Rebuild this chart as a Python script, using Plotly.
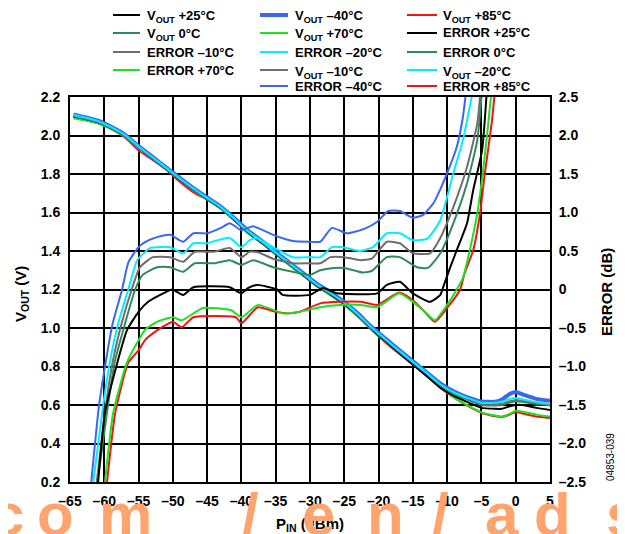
import plotly.graph_objects as go

# ---------------- data ----------------
x_ticks = [-65, -60, -55, -50, -45, -40, -35, -30, -25, -20, -15, -10, -5, 0, 5]
x_ticktext = ["–65", "–60", "–55", "–50", "–45", "–40", "–35", "–30", "–25", "–20", "–15", "–10", "–5", "0", "5"]
y_ticks = [0.2, 0.4, 0.6, 0.8, 1.0, 1.2, 1.4, 1.6, 1.8, 2.0, 2.2]
y_ticktext = ["0.2", "0.4", "0.6", "0.8", "1.0", "1.2", "1.4", "1.6", "1.8", "2.0", "2.2"]
y2_ticks = [-2.5, -2.0, -1.5, -1.0, -0.5, 0, 0.5, 1.0, 1.5, 2.0, 2.5]
y2_ticktext = ["–2.5", "–2.0", "–1.5", "–1.0", "–0.5", "0", "0.5", "1.0", "1.5", "2.0", "2.5"]

# VOUT curves (V) vs PIN (dBm)
pin_vout = [-64.5, -63, -61, -59, -57, -55, -53, -51, -49, -47, -45, -43, -41, -39, -37, -35, -33, -31, -29, -27,
            -25, -23, -21, -19, -17, -15, -13, -11, -9, -7, -5, -3, -2, -1, 0, 1, 3, 5]
vout_m40 = [2.11, 2.097, 2.078, 2.045, 2.005, 1.945, 1.89, 1.835, 1.78, 1.727, 1.678, 1.63, 1.57, 1.505, 1.452, 1.395,
            1.34, 1.285, 1.23, 1.185, 1.135, 1.075, 1.005, 0.945, 0.885, 0.828, 0.77, 0.712, 0.67, 0.64, 0.618, 0.617,
            0.628, 0.655, 0.668, 0.655, 0.632, 0.622]
vout_m20 = [2.108, 2.095, 2.076, 2.043, 2.003, 1.943, 1.888, 1.833, 1.778, 1.725, 1.676, 1.628, 1.567, 1.502, 1.45,
            1.392, 1.337, 1.282, 1.227, 1.182, 1.132, 1.072, 1.002, 0.942, 0.882, 0.825, 0.767, 0.708, 0.665, 0.636,
            0.612, 0.612, 0.618, 0.63, 0.636, 0.63, 0.615, 0.605]
vout_m10 = [2.102, 2.09, 2.072, 2.04, 2.0, 1.94, 1.885, 1.83, 1.775, 1.722, 1.673, 1.625, 1.564, 1.5, 1.447, 1.39,
            1.334, 1.28, 1.225, 1.18, 1.13, 1.07, 1.0, 0.94, 0.88, 0.822, 0.764, 0.705, 0.66, 0.632, 0.605, 0.603,
            0.606, 0.618, 0.626, 0.622, 0.61, 0.605]
vout_0 = [2.098, 2.087, 2.07, 2.038, 1.998, 1.938, 1.883, 1.828, 1.773, 1.72, 1.671, 1.623, 1.562, 1.498, 1.445, 1.388,
          1.332, 1.278, 1.223, 1.178, 1.128, 1.068, 0.998, 0.938, 0.878, 0.82, 0.762, 0.703, 0.657, 0.628, 0.6, 0.598,
          0.6, 0.612, 0.62, 0.616, 0.605, 0.598]
vout_25 = [2.1, 2.088, 2.07, 2.038, 1.998, 1.938, 1.882, 1.827, 1.772, 1.718, 1.67, 1.622, 1.56, 1.495, 1.442, 1.385,
           1.33, 1.275, 1.22, 1.175, 1.125, 1.065, 0.995, 0.932, 0.872, 0.81, 0.752, 0.69, 0.648, 0.615, 0.585, 0.58,
           0.58, 0.592, 0.6, 0.6, 0.585, 0.574]
vout_70 = [2.09, 2.08, 2.063, 2.033, 1.994, 1.935, 1.88, 1.825, 1.77, 1.716, 1.667, 1.62, 1.558, 1.492, 1.44, 1.383,
           1.327, 1.272, 1.217, 1.17, 1.12, 1.06, 0.99, 0.93, 0.87, 0.812, 0.752, 0.692, 0.64, 0.598, 0.562, 0.545,
           0.54, 0.552, 0.57, 0.565, 0.55, 0.54]
vout_85 = [2.095, 2.083, 2.065, 2.035, 1.99, 1.922, 1.875, 1.823, 1.76, 1.705, 1.667, 1.62, 1.558, 1.492, 1.44, 1.383,
           1.327, 1.272, 1.217, 1.17, 1.12, 1.06, 0.99, 0.925, 0.866, 0.81, 0.75, 0.69, 0.638, 0.596, 0.56, 0.542,
           0.538, 0.548, 0.564, 0.556, 0.54, 0.532]

# ERROR curves (dB) vs PIN (dBm)
pin_err_m40 = [-61.9, -60.8, -59.8, -58.8, -57.4, -56.5, -55, -53.5, -52.3, -50.4, -48.5, -47, -45, -43, -41.7, -40,
               -38.3, -35.4, -32.5, -30, -28.5, -26.8, -24.6, -22, -20.2, -18.6, -16.9, -15, -13.5, -12, -11, -10,
               -8.6, -7.7, -7.2]
err_m40 = [-2.5, -1.53, -0.95, -0.45, 0.0, 0.35, 0.55, 0.64, 0.68, 0.71, 0.62, 0.73, 0.73, 0.80, 0.86, 0.77,
           0.82, 0.71, 0.63, 0.62, 0.62, 0.80, 0.73, 0.79, 0.88, 1.02, 1.02, 0.93, 0.97, 1.12, 1.30, 1.51,
           1.85, 2.24, 2.6]
pin_err_m20 = [-61.6, -60.2, -59.2, -58.0, -56.5, -55.2, -53.3, -52.3, -50.4, -48.5, -47, -45, -43.5, -41.7, -40,
               -38.8, -37.8, -35.4, -32.5, -30, -28.5, -26.8, -25.2, -22.7, -20.8, -18.8, -16.9, -15, -12.9, -11,
               -9.1, -7.7, -6.2]
err_m20 = [-2.5, -1.53, -0.95, -0.45, 0.0, 0.38, 0.54, 0.55, 0.55, 0.47, 0.60, 0.60, 0.64, 0.67, 0.55,
           0.64, 0.67, 0.55, 0.42, 0.42, 0.42, 0.55, 0.55, 0.50, 0.55, 0.73, 0.73, 0.64, 0.66, 0.90,
           1.51, 1.94, 2.6]
pin_err_m10 = [-61.1, -59.8, -58.8, -57.5, -56, -54.8, -52.9, -50.4, -48.5, -46.8, -44, -41.7, -40, -38.8, -37.5,
               -35.4, -32.5, -30, -28.5, -27, -25, -22.6, -21, -18.8, -16.9, -15, -12.5, -11, -9.1, -7.1, -5.6, -5.1]
err_m10 = [-2.5, -1.53, -0.95, -0.45, 0.0, 0.29, 0.42, 0.42, 0.36, 0.49, 0.49, 0.54, 0.42, 0.49, 0.48,
           0.40, 0.34, 0.34, 0.34, 0.42, 0.42, 0.38, 0.40, 0.62, 0.60, 0.47, 0.47, 0.67, 1.07, 1.59, 2.16, 2.6]
pin_err_0 = [-61.0, -59.5, -58.5, -57, -55.5, -54.4, -52.3, -50.4, -48.5, -46.8, -44, -41.7, -40, -38.3, -35.4,
             -32.5, -30, -28.5, -26.5, -25, -22.3, -21, -18.8, -16.9, -14.4, -12.8, -11, -9.1, -7.1, -5.6, -4.9]
err_0 = [-2.5, -1.53, -0.95, -0.45, 0.0, 0.19, 0.29, 0.29, 0.23, 0.34, 0.34, 0.38, 0.32, 0.38, 0.29,
         0.23, 0.19, 0.25, 0.28, 0.28, 0.22, 0.24, 0.42, 0.42, 0.29, 0.28, 0.47, 0.86, 1.38, 1.94, 2.6]
pin_err_25 = [-60.9, -59.9, -58.1, -56.7, -55, -53.6, -51.4, -50.1, -48.5, -47, -41.7, -40, -39, -37.7, -34.8, -34,
              -30, -28.1, -26.1, -20.2, -18.8, -16.9, -15, -12.5, -11, -10.5, -9.5, -8.6, -7.1, -6.2, -4.9, -4.2]
err_25 = [-2.5, -1.6, -0.95, -0.53, -0.29, -0.16, -0.05, 0.0, -0.07, 0.03, 0.03, -0.05, 0.02, 0.06, 0.0, -0.07,
          -0.07, 0.02, -0.05, -0.05, 0.06, 0.10, -0.05, -0.16, -0.07, 0.05, 0.30, 0.51, 0.86, 1.29, 1.81, 2.6]
pin_err_70 = [-59.9, -58.7, -56.7, -55, -54, -52.3, -51, -50, -48.7, -45.6, -41.5, -40, -37.6, -34, -33, -31.5,
              -28.5, -25.6, -22.6, -20.2, -17, -15, -13.5, -11.8, -10, -8.6, -7.7, -6.7, -5.6, -4.8, -4.0, -3.5]
err_70 = [-2.5, -1.6, -0.95, -0.66, -0.52, -0.42, -0.38, -0.36, -0.40, -0.24, -0.27, -0.36, -0.20, -0.31, -0.31,
          -0.29, -0.23, -0.20, -0.20, -0.23, -0.05, -0.16, -0.27, -0.40, -0.20, 0.0, 0.15, 0.51, 0.99, 1.51, 2.16, 2.6]
pin_err_85 = [-59.6, -58.4, -56.5, -55, -54, -52.3, -51, -50, -48.7, -47, -40.8, -40, -37.6, -35, -33, -31.5,
              -28.5, -25.6, -22.6, -20.2, -17, -15, -13.5, -11.8, -10, -8.1, -7.5, -6.2, -5.2, -4.5, -3.5, -3.0]
err_85 = [-2.5, -1.6, -0.95, -0.79, -0.65, -0.53, -0.46, -0.42, -0.49, -0.36, -0.36, -0.44, -0.23, -0.29, -0.31,
          -0.29, -0.18, -0.16, -0.16, -0.20, -0.04, -0.14, -0.27, -0.42, -0.24, 0.0, 0.20, 0.51, 0.99, 1.51, 2.16, 2.6]

# ---------------- styles ----------------
C_BLACK = "#000000"
C_BLUE = "#3B66F2"
C_RED = "#F21414"
C_DKGREEN = "#2E8B57"
C_GREEN = "#1EE01E"
C_GRAY = "#6E6E6E"
C_CYAN = "#00EEFF"

FONT = "Arial, 'Liberation Sans', Helvetica, sans-serif"

fig = go.Figure()

def add_line(x, y, color, width, axis="y"):
    fig.add_trace(go.Scatter(x=x, y=y, mode="lines", yaxis=axis, showlegend=False,
                             hoverinfo="skip",
                             line=dict(color=color, width=width, shape="spline", smoothing=0.5)))

# ERROR curves (right axis)
add_line(pin_err_0, err_0, C_DKGREEN, 2, "y2")
add_line(pin_err_m10, err_m10, C_GRAY, 2, "y2")
add_line(pin_err_m20, err_m20, C_CYAN, 2, "y2")
add_line(pin_err_m40, err_m40, C_BLUE, 2, "y2")
add_line(pin_err_25, err_25, C_BLACK, 2, "y2")
add_line(pin_err_85, err_85, C_RED, 2, "y2")
add_line(pin_err_70, err_70, C_GREEN, 2, "y2")

# VOUT curves (left axis)
add_line(pin_vout, vout_85, C_RED, 2)
add_line(pin_vout, vout_70, C_GREEN, 2)
add_line(pin_vout, vout_25, C_BLACK, 2)
add_line(pin_vout, vout_0, C_DKGREEN, 2)
add_line(pin_vout, vout_m10, C_GRAY, 2)
add_line(pin_vout, vout_m40, C_BLUE, 4)
add_line(pin_vout, vout_m20, C_CYAN, 2)

# ---------------- layout ----------------
# the page body has an 8 px margin; the figure is sized so that it fills the window exactly
OFF = 8
W, H = 625 - OFF, 534 - OFF
L, R, T, B = 70, 550, 97, 482   # plot-area edges in window pixels

def px(xp):
    return (xp - L) / (R - L)

def py(yp):
    return (B - yp) / (B - T)

axis_common = dict(
    showline=True, linecolor="black", linewidth=2, mirror=True,
    showgrid=True, gridcolor="black", gridwidth=1.5, zeroline=False,
    ticks="outside", ticklen=5, tickcolor="rgba(0,0,0,0)",
    tickfont=dict(family=FONT, size=14, color="black", weight="bold"),
)

fig.update_layout(
    width=W, height=H,
    margin=dict(l=L - OFF, r=W - (R - OFF), t=T - OFF, b=H - (B - OFF)),
    paper_bgcolor="white", plot_bgcolor="white",
    showlegend=False,
    xaxis=dict(range=[-65, 5], tickvals=x_ticks, ticktext=x_ticktext, **axis_common),
    yaxis=dict(range=[0.2, 2.2], tickvals=y_ticks, ticktext=y_ticktext, **axis_common),
    yaxis2=dict(range=[-2.5, 2.5], tickvals=y2_ticks, ticktext=y2_ticktext, overlaying="y", side="right",
                showgrid=False, zeroline=False, showline=False,
                ticks="outside", ticklen=5, tickcolor="rgba(0,0,0,0)",
                tickfont=dict(family=FONT, size=14, color="black", weight="bold")),
)

annotations = []
shapes = []

# manual legend (3 columns, row-major)
legend_rows = [
    [("V<sub>OUT</sub> +25°C", C_BLACK, 2), ("V<sub>OUT</sub> –40°C", C_BLUE, 4), ("V<sub>OUT</sub> +85°C", C_RED, 2)],
    [("V<sub>OUT</sub> 0°C", C_DKGREEN, 2), ("V<sub>OUT</sub> +70°C", C_GREEN, 2), ("ERROR +25°C", C_BLACK, 2)],
    [("ERROR –10°C", C_GRAY, 2), ("ERROR –20°C", C_CYAN, 2), ("ERROR 0°C", C_DKGREEN, 2)],
    [("ERROR +70°C", C_GREEN, 2), ("V<sub>OUT</sub> –10°C", C_GRAY, 2), ("V<sub>OUT</sub> –20°C", C_CYAN, 2)],
    [None, ("ERROR –40°C", C_BLUE, 2), ("ERROR +85°C", C_RED, 2)],
]
row_y = [15, 33, 52, 70, 86]
col_line = [(113, 140), (260, 288), (407, 437)]
col_text = [145, 293, 441]
for r, row in enumerate(legend_rows):
    for c, item in enumerate(row):
        if item is None:
            continue
        label, color, w = item
        yy = py(row_y[r])
        shapes.append(dict(type="line", xref="paper", yref="paper",
                           x0=px(col_line[c][0]), x1=px(col_line[c][1]), y0=yy, y1=yy,
                           line=dict(color=color, width=w)))
        ty = row_y[r] + (2 if "sub" in label else 0)
        annotations.append(dict(text=label, xref="paper", yref="paper", x=px(col_text[c]), y=py(ty),
                                xanchor="left", yanchor="middle", showarrow=False,
                                font=dict(family=FONT, size=13, color="black", weight="bold")))

# axis titles
annotations.append(dict(text="V<sub>OUT</sub> (V)", xref="paper", yref="paper", x=px(21), y=py(294),
                        textangle=-90, showarrow=False, xanchor="center", yanchor="middle",
                        font=dict(family=FONT, size=15, color="black", weight="bold")))
annotations.append(dict(text="ERROR (dB)", xref="paper", yref="paper", x=px(606), y=py(292),
                        textangle=-90, showarrow=False, xanchor="center", yanchor="middle",
                        font=dict(family=FONT, size=15, color="black", weight="bold")))
annotations.append(dict(text="P<sub>IN</sub> (dBm)", xref="paper", yref="paper", x=px(310), y=py(524),
                        showarrow=False, xanchor="center", yanchor="middle",
                        font=dict(family=FONT, size=15, color="black", weight="bold")))
annotations.append(dict(text="04853-039", xref="paper", yref="paper", x=px(610), y=py(457),
                        textangle=-90, showarrow=False, xanchor="center", yanchor="middle",
                        font=dict(family=FONT, size=10, color="black")))

# watermark glyphs along the bottom edge (drawn over the chart as in the reference)
wm_glyphs = [("c", 8), ("o", 55), ("m", 125), ("/", 250), ("e", 318), ("n", 385), ("/", 440), ("a", 502),
             ("d", 552), ("s", 622)]
for g, gx in wm_glyphs:
    annotations.append(dict(text=g, xref="paper", yref="paper", x=px(gx), y=py(550),
                            showarrow=False, xanchor="center", yanchor="bottom",
                            font=dict(family=FONT, size=60, color="#FFA46E", weight="bold")))

fig.update_layout(annotations=annotations, shapes=shapes)

fig.write_html("out.html")
